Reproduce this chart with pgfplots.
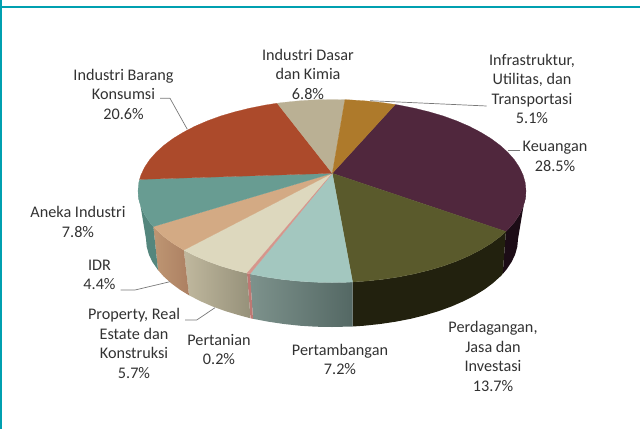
\documentclass[border=0pt]{standalone}
\usepackage{pgfplots}
\pgfplotsset{compat=1.18}
\usepackage{fontspec}
\setmainfont{Carlito}
\definecolor{cKeu}{RGB}{80,39,61}
\definecolor{cPer}{RGB}{90,90,44}
\definecolor{cTam}{RGB}{163,199,191}
\definecolor{cTan}{RGB}{214,150,140}
\definecolor{cPro}{RGB}{221,216,190}
\definecolor{cIdr}{RGB}{211,170,132}
\definecolor{cAne}{RGB}{104,156,146}
\definecolor{cBar}{RGB}{172,74,43}
\definecolor{cDas}{RGB}{186,176,148}
\definecolor{cInf}{RGB}{174,122,43}
\definecolor{cFrame}{RGB}{0,160,176}
\definecolor{cLead}{RGB}{120,120,120}
\definecolor{cText}{RGB}{50,50,50}
\pgfplotsset{
  top/.style={fill=#1,draw=#1,line width=0.2pt},
  lead/.style={draw=cLead,line width=0.7pt},
}
\tikzset{lab/.style={font=\fontsize{16.2}{19.5}\selectfont,text=cText,align=center,inner sep=0pt}}
\begin{document}
\begin{tikzpicture}
\begin{axis}[
  scale only axis,width=640pt,height=429pt,
  xmin=0,xmax=640,ymin=0,ymax=429,y dir=reverse,
  axis lines=none,
]
% frame
\addplot[fill=cFrame,draw=none] coordinates {(0,0)(2,0)(2,429)(0,429)} --cycle;
\addplot[fill=cFrame,draw=none] coordinates {(0,6)(640,6)(640,7.6)(0,7.6)} --cycle;
% side faces
\addplot[fill={rgb,255:red,28;green,12;blue,22},draw=none] coordinates {
 (526,191)(525.3,199)(523.1,206.9)(519.4,214.7)(514.3,222.3)(507.8,229.7)(505.9,231.5)
 (502.7,274)(506.8,269.1)(511.7,261.8)(515.2,254.3)(517.3,246.7)(518,239)} --cycle;
\addplot[fill={rgb,255:red,34;green,33;blue,14},draw=none] coordinates {
 (505.9,231.5)(500,236.75)(490.9,243.5)(480.6,249.8)(469.2,255.7)(456.7,261.1)(443.3,266)(429,270.2)(414,273.9)(398.3,277)(382.2,279.4)(365.7,281.1)(352.6,282)
 (352.6,326.5)(364.3,325.7)(380.1,324)(395.6,321.7)(410.6,318.8)(425,315.2)(438.7,311.1)(451.6,306.4)(463.5,301.2)(474.5,295.6)(484.4,289.5)(493.1,283)(500.6,276.2)(502.7,274)} --cycle;
\addplot[left color={rgb,255:red,125;green,146;blue,140},right color={rgb,255:red,84;green,104;blue,100},draw=none] coordinates {
 (352.6,282)(348.9,282.2)(332,282.5)(315.1,282.2)(298.3,281.1)(281.8,279.4)(265.7,277)(250,273.9)
 (253,318.8)(268.4,321.7)(283.9,324)(299.7,325.7)(315.8,326.7)(332,327)(352.6,326.5)} --cycle;
\addplot[fill={rgb,255:red,190;green,120;blue,115},draw=none] coordinates {
 (250,273.9)(247,273.2)(250.5,318.3)(253,318.8)} --cycle;
\addplot[left color={rgb,255:red,192;green,184;blue,158},right color={rgb,255:red,150;green,145;blue,122},draw=none] coordinates {
 (247,273.2)(235,270.2)(220.7,266)(207.3,261.1)(194.8,255.7)(183.8,250.1)
 (189,295.3)(200.5,301.2)(212.4,306.4)(225.3,311.1)(239,315.2)(250.5,318.3)} --cycle;
\addplot[left color={rgb,255:red,190;green,150;blue,115},right color={rgb,255:red,172;green,128;blue,98},draw=none] coordinates {
 (183.8,250.1)(173.1,243.5)(164,236.75)(156.2,229.7)(153.3,226.6)
 (158,270)(163.4,276.2)(170.9,283)(179.6,289.5)(189,295.3)} --cycle;
\addplot[fill={rgb,255:red,84;green,134;blue,125},draw=none] coordinates {
 (153.3,226.6)(149.7,222.3)(144.6,214.7)(140.9,206.9)(138.7,199)(138,191)
 (146,239)(146.7,246.7)(148.8,254.3)(152.3,261.8)(158,270)} --cycle;
% top faces
\addplot[top=cKeu] coordinates {(332.3,173.3)
 (395.2,104.5)(398.3,105)(414,108.1)(429,111.8)(443.3,116)(456.7,120.9)(469.2,126.3)(480.6,132.2)(490.9,138.5)(500,145.25)(507.8,152.3)(514.3,159.7)(519.4,167.3)(523.1,175.1)(525.3,183)(526,191)(525.3,199)(523.1,206.9)(519.4,214.7)(514.3,222.3)(507.8,229.7)(505.9,231.5)} --cycle;
\addplot[top=cPer] coordinates {(332.3,173.3)
 (505.9,231.5)(500,236.75)(490.9,243.5)(480.6,249.8)(469.2,255.7)(456.7,261.1)(443.3,266)(429,270.2)(414,273.9)(398.3,277)(382.2,279.4)(365.7,281.1)(352.6,282)} --cycle;
\addplot[top=cTam] coordinates {(332.3,173.3)
 (352.6,282)(348.9,282.2)(332,282.5)(315.1,282.2)(298.3,281.1)(281.8,279.4)(265.7,277)(250,273.9)} --cycle;
\addplot[top=cPro] coordinates {(332.3,173.3)
 (247,273.2)(235,270.2)(220.7,266)(207.3,261.1)(194.8,255.7)(183.8,250.1)} --cycle;
\addplot[top=cTan] coordinates {(332.3,173.3)(250,273.9)(247,273.2)} --cycle;
\addplot[top=cIdr] coordinates {(332.3,173.3)
 (183.8,250.1)(173.1,243.5)(164,236.75)(156.2,229.7)(153.3,226.6)} --cycle;
\addplot[top=cAne] coordinates {(332.3,173.3)
 (153.3,226.6)(149.7,222.3)(144.6,214.7)(140.9,206.9)(138.7,199)(138,191)(138.7,183)(139.6,179.4)} --cycle;
\addplot[top=cBar] coordinates {(332.3,173.3)
 (139.6,179.4)(140.9,175.1)(144.6,167.3)(149.7,159.7)(156.2,152.3)(164,145.25)(173.1,138.5)(183.4,132.2)(194.8,126.3)(207.3,120.9)(220.7,116)(235,111.8)(250,108.1)(265.7,105)(277.2,103.2)} --cycle;
\addplot[top=cDas] coordinates {(332.3,173.3)
 (277.2,103.2)(281.8,102.6)(298.3,100.9)(315.1,99.8)(332,99.5)(344.9,99.7)} --cycle;
\addplot[top=cInf] coordinates {(332.3,173.3)
 (344.9,99.7)(348.9,99.8)(365.7,100.9)(382.2,102.6)(395.2,104.5)} --cycle;
% leader lines
\addplot[lead] coordinates {(160,98.3)(170,98.3)(187.3,129.3)};
\addplot[lead] coordinates {(370,100.7)(486.7,106)};
\addplot[lead] coordinates {(508.3,150.7)(520,150.7)};
\addplot[lead] coordinates {(120.7,290)(135,290)(170,281.7)};
\addplot[lead] coordinates {(185,320)(196.7,320)(215,307.7)};
% labels
\node[lab] at (axis cs:308,74) {Industri Dasar\\dan Kimia\\6.8\%};
\node[lab] at (axis cs:532,89) {Infrastruktur,\\Utilitas, dan\\Transportasi\\5.1\%};
\node[lab] at (axis cs:555,156.5) {Keuangan\\28.5\%};
\node[lab] at (axis cs:493,356.5) {Perdagangan,\\Jasa dan\\Investasi\\13.7\%};
\node[lab] at (axis cs:340,359.5) {Pertambangan\\7.2\%};
\node[lab] at (axis cs:219,349.5) {Pertanian\\0.2\%};
\node[lab] at (axis cs:134,343.5) {Property, Real\\Estate dan\\Konstruksi\\5.7\%};
\node[lab] at (axis cs:99.5,275) {IDR\\4.4\%};
\node[lab] at (axis cs:78,222) {Aneka Industri\\7.8\%};
\node[lab] at (axis cs:123.5,94) {Industri Barang\\Konsumsi\\20.6\%};
\end{axis}
\end{tikzpicture}
\end{document}
